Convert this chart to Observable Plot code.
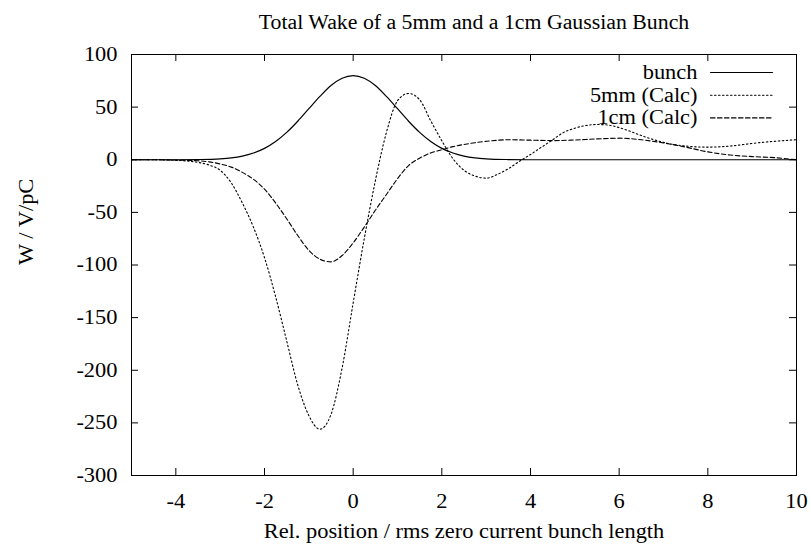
<!DOCTYPE html>
<html>
<head>
<meta charset="utf-8">
<script src="https://cdn.jsdelivr.net/npm/d3@7"></script>
<script src="https://cdn.jsdelivr.net/npm/@observablehq/plot@0.6"></script>
<style>
  html, body { margin: 0; padding: 0; background: #fff; }
</style>
</head>
<body>
<div id="chart"></div>
<script>
const title = "Total Wake of a 5mm and a 1cm Gaussian Bunch";
const xLabel = "Rel. position / rms zero current bunch length";
const yLabel = "W / V/pC";

const xTicks = [-4, -2, 0, 2, 4, 6, 8, 10];
const yTicks = [-300, -250, -200, -150, -100, -50, 0, 50, 100];

const seriesNames = ["bunch", "5mm (Calc)", "1cm (Calc)"];

const bunchX = [-5,-4.5,-4,-3.5,-3,-2.75,-2.5,-2.25,-2,-1.75,-1.5,-1.25,-1,-0.75,-0.5,-0.25,0,0.25,0.5,0.75,1,1.25,1.5,1.75,2,2.25,2.5,2.75,3,3.5,4,4.5,5,6,7,8,9,10];
const bunchW = [0,0,0,0.2,0.9,1.8,3.5,6.4,10.8,17.3,26,36.6,48.5,60.2,70.6,77.5,80,77.5,70.6,60.2,48.5,36.6,26,17.3,10.8,6.4,3.5,1.8,0.9,0.2,0,0,0,0,0,0,0,0];

const mm5X = [-5,-4.5,-4,-3.75,-3.5,-3.25,-3,-2.75,-2.5,-2.25,-2,-1.75,-1.5,-1.25,-1,-0.75,-0.5,-0.25,0,0.25,0.5,0.75,1,1.25,1.5,1.75,2,2.25,2.5,2.75,3,3.25,3.5,3.75,4,4.25,4.5,4.75,5,5.25,5.5,5.75,6,6.25,6.5,6.75,7,7.5,8,8.5,9,9.5,10];
const mm5W = [0,0,-0.5,-1.2,-2.5,-5,-10,-22,-41,-64,-93,-130,-172,-214,-243,-256,-242,-198,-136,-75,-20,26,56,63,57,37,18,1,-10,-15.5,-17.5,-14,-8.5,-1.5,5,12,19,26,30,32.5,33.5,33,30.5,27,23,19.5,16.5,13,12,13,15.5,17.5,19];

const cm1X = [-5,-4.5,-4,-3.5,-3.25,-3,-2.75,-2.5,-2.25,-2,-1.75,-1.5,-1.25,-1,-0.75,-0.5,-0.25,0,0.25,0.5,0.75,1,1.25,1.5,1.75,2,2.25,2.5,2.75,3,3.5,4,4.5,5,5.5,6,6.5,7,7.5,8,8.5,9,9.5,10];
const cm1W = [0,0,-0.3,-1,-2,-4,-7,-12,-18.5,-28,-41,-56,-72,-86,-94.5,-97,-91,-79,-64,-48,-33,-18,-5.5,1.5,6.5,9.5,12.5,14.5,16.2,17.5,19,18.6,18.2,18.8,19.8,20.5,19,16,12,7.5,4.5,3,2,0];

const zip = (xs, ys) => xs.map((x, i) => ({x, w: ys[i]}));
const series = [
  {name: seriesNames[0], data: zip(bunchX, bunchW), dash: null, sw: 1.2},
  {name: seriesNames[1], data: zip(mm5X, mm5W), dash: "1.5,2.5", sw: 1.1},
  {name: seriesNames[2], data: zip(cm1X, cm1W), dash: "4.5,2.5", sw: 1.1}
];

const FONT = "Liberation Serif";
const FS = 20;
const STRETCH = 1.12;
const TITLE_STRETCH = 1.09;
const mL = 131, mR = 15, mT = 54, mB = 73;
const W = 811, H = 548;
const frameW = W - mL - mR, frameH = H - mT - mB;
const tickLen = 7;

const lineShape = {draw(ctx, l) { ctx.moveTo(0, 0); ctx.lineTo(0, -l); }};

const marks = [];
for (const s of series) {
  marks.push(Plot.line(s.data, {x: "x", y: "w", stroke: "black", strokeWidth: s.sw, strokeDasharray: s.dash, curve: "monotone-x"}));
}
marks.push(Plot.frame({stroke: "black", strokeWidth: 1}));
marks.push(Plot.tickX(xTicks, {x: d => d, insetTop: frameH - tickLen, stroke: "black"}));
marks.push(Plot.tickX(xTicks, {x: d => d, insetBottom: frameH - tickLen, stroke: "black"}));
marks.push(Plot.tickY(yTicks, {y: d => d, insetRight: frameW - tickLen, stroke: "black"}));
marks.push(Plot.tickY(yTicks, {y: d => d, insetLeft: frameW - tickLen, stroke: "black"}));
marks.push(Plot.axisX(xTicks, {tickSize: 0, tickPadding: 18, tickFormat: d => String(d), label: null, fontSize: FS, fontFamily: FONT}));
marks.push(Plot.axisY(yTicks, {tickSize: 0, tickPadding: 14, tickFormat: d => String(d), label: null, fontSize: FS, fontFamily: FONT}));
marks.push(Plot.text([title], {frameAnchor: "top", lineAnchor: "middle", dx: 10, dy: -32, fontSize: FS, fontFamily: FONT, fill: "black", className: "chart-title"}));
marks.push(Plot.text([xLabel], {frameAnchor: "bottom", lineAnchor: "middle", dy: 56, fontSize: FS, fontFamily: FONT, fill: "black"}));
marks.push(Plot.text([yLabel], {frameAnchor: "left", lineAnchor: "middle", dx: -105, dy: 0, rotate: -90, fontSize: FS, fontFamily: FONT, fill: "black"}));
series.forEach((s, i) => {
  const dy = 18 + 22.7 * i;
  marks.push(Plot.text([s.name], {frameAnchor: "top-right", lineAnchor: "middle", dx: -99, dy, textAnchor: "end", fontSize: FS, fontFamily: FONT, fill: "black"}));
  marks.push(Plot.vector([0], {frameAnchor: "top-right", dx: -86, dy, rotate: 90, length: 62, anchor: "start", shape: lineShape, stroke: "black", strokeWidth: s.sw, strokeDasharray: s.dash}));
});

const chart = Plot.plot({
  width: W,
  height: H,
  marginLeft: mL,
  marginRight: mR,
  marginTop: mT,
  marginBottom: mB,
  x: {domain: [-5, 10], axis: null},
  y: {domain: [-300, 100], axis: null},
  style: {fontFamily: FONT, fontSize: FS + "px", background: "white", color: "black"},
  marks
});
document.getElementById("chart").appendChild(chart);
// widen glyphs slightly to match the reference's wider serif lettering
chart.querySelectorAll("text").forEach(t => {
  const L = t.getComputedTextLength();
  if (L > 0) {
    const isTitle = t.textContent === title;
    t.setAttribute("textLength", (L * (isTitle ? TITLE_STRETCH : STRETCH)).toFixed(1));
    t.setAttribute("lengthAdjust", "spacingAndGlyphs");
  }
});
</script>
</body>
</html>
